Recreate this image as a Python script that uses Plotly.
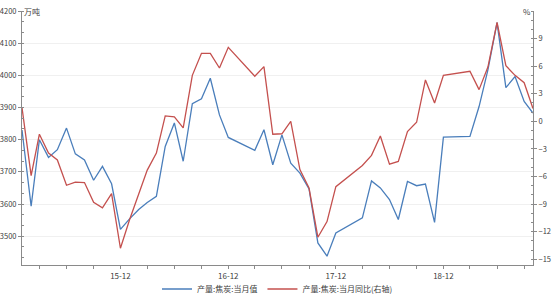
import plotly.graph_objects as go

# ---- data ----
dates = [
    "2015-01", "2015-02", "2015-03", "2015-04", "2015-05", "2015-06", "2015-07", "2015-08",
    "2015-09", "2015-10", "2015-11", "2015-12",
    "2016-01", "2016-02", "2016-03", "2016-04", "2016-05", "2016-06", "2016-07", "2016-08",
    "2016-09", "2016-10", "2016-11", "2016-12",
    "2017-03", "2017-04", "2017-05", "2017-06", "2017-07", "2017-08", "2017-09", "2017-10",
    "2017-11", "2017-12",
    "2018-03", "2018-04", "2018-05", "2018-06", "2018-07", "2018-08", "2018-09", "2018-10",
    "2018-11", "2018-12",
    "2019-03", "2019-04", "2019-05", "2019-06", "2019-07", "2019-08", "2019-09", "2019-10",
]
output_monthly = [  # 万吨
    3830, 3593, 3800, 3745, 3769, 3836, 3756, 3737, 3674, 3717, 3663, 3521,
    3554, 3583, 3605, 3624, 3779, 3852, 3733, 3912, 3927, 3991, 3877, 3807,
    3767, 3831, 3722, 3815, 3727, 3696, 3647, 3479, 3438, 3510,
    3557, 3672, 3650, 3614, 3552, 3670, 3657, 3662, 3543, 3808,
    3810, 3903, 4017, 4164, 3962, 3996, 3919, 3883,
]
output_yoy = [  # %
    1.5, -5.9, -1.4, -3.45, -4.2, -6.95, -6.6, -6.65, -8.8, -9.4, -7.85, -13.8,
    -10.7, -7.85, -5.3, -3.45, 0.6, 0.5, -0.7, 5.0, 7.4, 7.4, 5.8, 8.05,
    4.9, 5.95, -1.4, -1.35, 0.0, -5.25, -7.25, -12.6, -10.9, -7.1,
    -4.8, -3.7, -1.6, -4.65, -4.35, -1.1, -0.1, 4.5, 2.0, 5.0,
    5.45, 3.45, 5.9, 10.75, 6.05, 5.0, 4.2, 1.4,
]
left_ticks = [3500, 3600, 3700, 3800, 3900, 4000, 4100, 4200]
right_ticks = [-15, -12, -9, -6, -3, 0, 3, 6, 9]
x_tickvals = [f"{y}-{m:02d}-01" for y in range(2015, 2020) for m in (3, 6, 9, 12)
              if not (y == 2019 and m == 12)]
x_ticktext = [f"{v[2:4]}-12" if v[5:7] == "12" else "" for v in x_tickvals]

series_names = ["产量:焦炭:当月值", "产量:焦炭:当月同比(右轴)"]

BLUE = "#4a7ebb"
RED = "#c4504e"
AXIS = "#8a8a8a"
TXT = "#404040"
FONT = "Noto Sans CJK SC"

fig = go.Figure()
fig.add_trace(go.Scatter(x=dates, y=output_monthly, mode="lines", name=series_names[0],
                         line=dict(color=BLUE, width=1.3), yaxis="y"))
fig.add_trace(go.Scatter(x=dates, y=output_yoy, mode="lines", name=series_names[1],
                         line=dict(color=RED, width=1.3), yaxis="y2"))

fig.update_layout(
    width=553, height=296,
    margin=dict(l=22, r=20, t=11, b=31),
    paper_bgcolor="white", plot_bgcolor="white",
    font=dict(family=FONT, size=8, color=TXT),
    showlegend=True,
    legend=dict(orientation="h", xref="paper", x=0.5, xanchor="center",
                yref="container", y=(296 - 289) / 296, yanchor="middle",
                font=dict(size=8, color=TXT), itemwidth=30, bgcolor="rgba(0,0,0,0)"),
    xaxis=dict(
        type="date", range=["2015-01-01", "2019-10-01"], automargin=False,
        tickmode="array", tickvals=x_tickvals, ticktext=x_ticktext,
        showline=True, linecolor=AXIS, linewidth=1,
        ticks="outside", ticklen=3, tickcolor=AXIS, showgrid=False, zeroline=False,
        tickfont=dict(size=8, color=TXT),
    ),
    yaxis=dict(
        range=[3410.5, 4200], tickmode="array", tickvals=left_ticks, automargin=False,
        showline=True, linecolor=AXIS, linewidth=1,
        ticks="outside", ticklen=3, tickcolor=AXIS,
        showgrid=True, gridcolor="#f0f0f0", gridwidth=1, zeroline=False,
        minor=dict(ticks="inside", ticklen=2, tickcolor=AXIS, dtick=100 / 3, tick0=3500,
                   showgrid=False),
        tickfont=dict(size=7.5, color=TXT),
    ),
    yaxis2=dict(
        range=[-15.62, 12], overlaying="y", side="right", tickmode="array",
        tickvals=right_ticks, automargin=False,
        showline=True, linecolor=AXIS, linewidth=1,
        ticks="outside", ticklen=3, tickcolor=AXIS,
        showgrid=False, zeroline=False,
        minor=dict(ticks="inside", ticklen=2, tickcolor=AXIS, dtick=1, tick0=0,
                   showgrid=False),
        tickfont=dict(size=7.5, color=TXT),
    ),
    annotations=[
        dict(text="万吨", x=0, y=1, xref="paper", yref="paper", xanchor="left",
             yanchor="middle", showarrow=False, font=dict(size=8, color=TXT)),
        dict(text="%", x=1, y=1, xref="paper", yref="paper", xanchor="right",
             yanchor="middle", showarrow=False, font=dict(size=8, color=TXT)),
    ],
)

fig.write_html("out.html")
